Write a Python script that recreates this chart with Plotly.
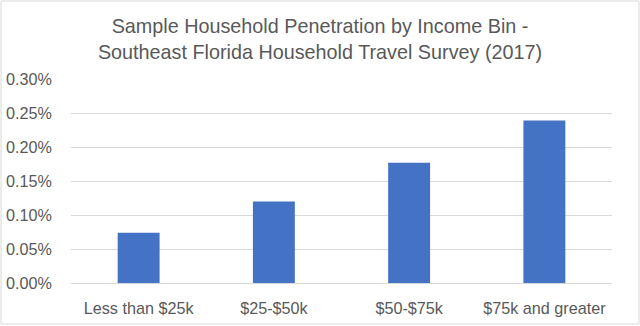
import plotly.graph_objects as go

# Income bins and sample household penetration (share of households)
income_bins = ["Less than $25k", "$25-$50k", "$50-$75k", "$75k and greater"]
penetration = [0.00074, 0.00120, 0.00177, 0.00239]
y_ticks = [0, 0.0005, 0.001, 0.0015, 0.002, 0.0025, 0.003]

W, H = 640, 326
M_L, M_R, M_T, M_B = 71, 28, 79, 43

text_color = "#595959"
grid_color = "#D9D9D9"
bar_color = "#4472C4"
font_family = "Liberation Sans, Arial, sans-serif"

fig = go.Figure(
    go.Bar(
        x=income_bins,
        y=penetration,
        width=0.31,
        marker=dict(color=bar_color, line=dict(width=0)),
        hoverinfo="skip",
    )
)

# Chart-area border drawn in paper coordinates derived from the margins
pw = W - M_L - M_R
ph = H - M_T - M_B
fig.add_shape(
    type="rect",
    xref="paper", yref="paper",
    x0=(1 - M_L) / pw, x1=(W - 1 - M_L) / pw,
    y0=-(H - 2 - M_T - ph) / ph, y1=(H - 1 - M_B) / ph,
    line=dict(color=grid_color, width=1),
    fillcolor="rgba(0,0,0,0)",
    layer="below",
)

fig.update_layout(
    width=W,
    height=H,
    margin=dict(l=M_L, r=M_R, t=M_T, b=M_B, pad=0),
    paper_bgcolor="white",
    plot_bgcolor="white",
    showlegend=False,
    font=dict(family=font_family, color=text_color, size=16),
    title=dict(
        text="Sample Household Penetration by Income Bin -<br>Southeast Florida Household Travel Survey (2017)",
        x=0.5,
        xanchor="center",
        xref="container",
        y=1 - 33 / H,
        yanchor="middle",
        yref="container",
        font=dict(family=font_family, size=19.8, color=text_color),
    ),
    xaxis=dict(
        showgrid=False,
        showline=False,
        ticks="",
        automargin=False,
        ticklabelstandoff=14,
        tickfont=dict(size=16.2, color=text_color),
    ),
    yaxis=dict(
        range=[0, 0.003],
        tickvals=y_ticks,
        tickformat=".2%",
        showgrid=True,
        gridcolor=grid_color,
        gridwidth=1,
        zeroline=True,
        zerolinecolor=grid_color,
        zerolinewidth=1,
        showline=False,
        ticks="",
        automargin=False,
        ticklabelstandoff=18,
        tickfont=dict(size=16.2, color=text_color),
    ),
)

fig.write_html("out.html")
